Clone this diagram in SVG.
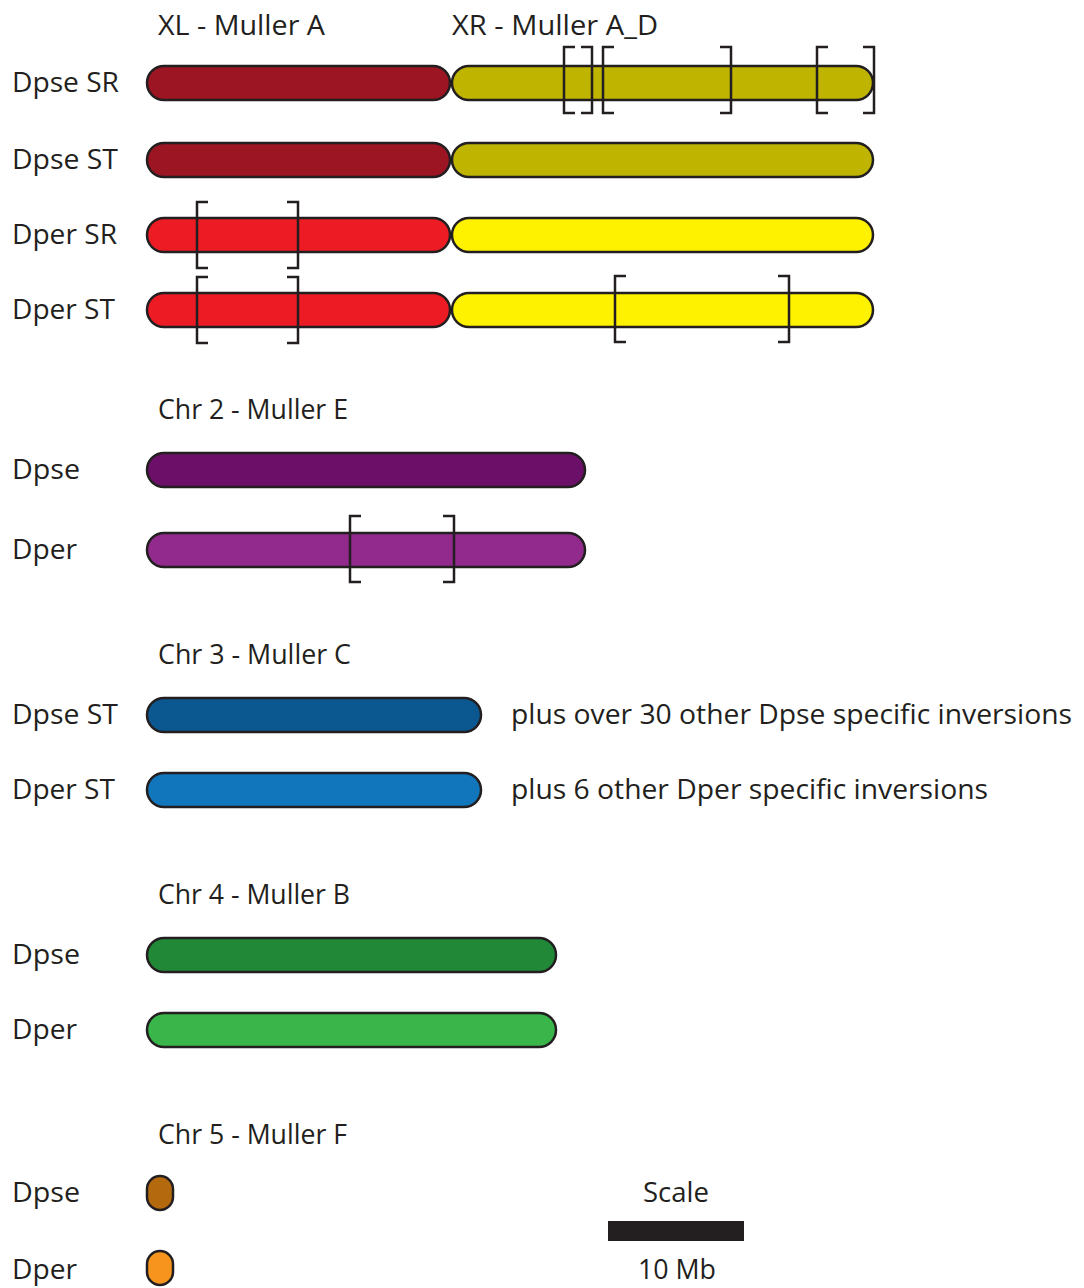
<svg xmlns="http://www.w3.org/2000/svg" width="1084" height="1288" viewBox="0 0 1084 1288">
<style>
text{font-family:"Open Sans","Liberation Sans",sans-serif;font-size:28px;fill:#231f20}
.bar{stroke:#231f20;stroke-width:2.5}
.br{fill:none;stroke:#231f20;stroke-width:2.5}
</style>
<rect width="1084" height="1288" fill="#ffffff"/>
<g id="headers">
<text x="158" y="35" textLength="167" lengthAdjust="spacingAndGlyphs">XL - Muller A</text>
<text x="452" y="35" textLength="206" lengthAdjust="spacingAndGlyphs">XR - Muller A_D</text>
<text x="158" y="419" textLength="190" lengthAdjust="spacingAndGlyphs">Chr 2 - Muller E</text>
<text x="158" y="664" textLength="193" lengthAdjust="spacingAndGlyphs">Chr 3 - Muller C</text>
<text x="158" y="904" textLength="192" lengthAdjust="spacingAndGlyphs">Chr 4 - Muller B</text>
<text x="158" y="1144" textLength="189" lengthAdjust="spacingAndGlyphs">Chr 5 - Muller F</text>
</g>
<g id="labels">
<text x="12" y="92" textLength="107" lengthAdjust="spacingAndGlyphs">Dpse SR</text>
<text x="12" y="169" textLength="106" lengthAdjust="spacingAndGlyphs">Dpse ST</text>
<text x="12" y="244" textLength="105" lengthAdjust="spacingAndGlyphs">Dper SR</text>
<text x="12" y="319" textLength="103" lengthAdjust="spacingAndGlyphs">Dper ST</text>
<text x="12" y="479" textLength="68" lengthAdjust="spacingAndGlyphs">Dpse</text>
<text x="12" y="559" textLength="65" lengthAdjust="spacingAndGlyphs">Dper</text>
<text x="12" y="724" textLength="106" lengthAdjust="spacingAndGlyphs">Dpse ST</text>
<text x="12" y="799" textLength="103" lengthAdjust="spacingAndGlyphs">Dper ST</text>
<text x="511" y="724" textLength="561" lengthAdjust="spacingAndGlyphs">plus over 30 other Dpse specific inversions</text>
<text x="511" y="799" textLength="477" lengthAdjust="spacingAndGlyphs">plus 6 other Dper specific inversions</text>
<text x="12" y="964" textLength="68" lengthAdjust="spacingAndGlyphs">Dpse</text>
<text x="12" y="1039" textLength="65" lengthAdjust="spacingAndGlyphs">Dper</text>
<text x="12" y="1202" textLength="68" lengthAdjust="spacingAndGlyphs">Dpse</text>
<text x="12" y="1279" textLength="65" lengthAdjust="spacingAndGlyphs">Dper</text>
</g>
<g id="chrX-DpseSR">
<rect class="bar" x="147" y="66" width="303" height="34" rx="17" fill="#9b1522"/>
<rect class="bar" x="452" y="66" width="421" height="34" rx="17" fill="#bfb400"/>
</g>
<g id="chrX-DpseST">
<rect class="bar" x="147" y="143" width="303" height="34" rx="17" fill="#9b1522"/>
<rect class="bar" x="452" y="143" width="421" height="34" rx="17" fill="#bfb400"/>
</g>
<g id="chrX-DperSR">
<rect class="bar" x="147" y="218" width="303" height="34" rx="17" fill="#ed1c24"/>
<rect class="bar" x="452" y="218" width="421" height="34" rx="17" fill="#fff200"/>
</g>
<g id="chrX-DperST">
<rect class="bar" x="147" y="293" width="303" height="34" rx="17" fill="#ed1c24"/>
<rect class="bar" x="452" y="293" width="421" height="34" rx="17" fill="#fff200"/>
</g>
<g id="chr2-Dpse"><rect class="bar" x="147" y="453" width="438" height="34" rx="17" fill="#6b0f68"/></g>
<g id="chr2-Dper"><rect class="bar" x="147" y="533" width="438" height="34" rx="17" fill="#922a8e"/></g>
<g id="chr3-DpseST"><rect class="bar" x="147" y="698" width="334" height="34" rx="17" fill="#0b5790"/></g>
<g id="chr3-DperST"><rect class="bar" x="147" y="773" width="334" height="34" rx="17" fill="#1176bc"/></g>
<g id="chr4-Dpse"><rect class="bar" x="147" y="938" width="409" height="34" rx="17" fill="#208837"/></g>
<g id="chr4-Dper"><rect class="bar" x="147" y="1013" width="409" height="34" rx="17" fill="#39b54a"/></g>
<g id="chr5-Dpse"><rect class="bar" x="147" y="1176" width="26" height="34" rx="13" fill="#b5690f"/></g>
<g id="chr5-Dper"><rect class="bar" x="147" y="1251" width="26" height="34" rx="13" fill="#f7941d"/></g>
<g id="brackets">
<path class="br" d="M575 47H564V113H575M581 47H592V113H581"/>
<path class="br" d="M614 47H603V113H614M720 47H731V113H720"/>
<path class="br" d="M828 47H817V113H828M863 47H874V113H863"/>
<path class="br" d="M208 202H197V268H208M287 202H298V268H287"/>
<path class="br" d="M208 277H197V343H208M287 277H298V343H287"/>
<path class="br" d="M626 276H615V342H626M778 276H789V342H778"/>
<path class="br" d="M361 516H350V582H361M443 516H454V582H443"/>
</g>
<g id="scale">
<text x="643" y="1202" textLength="66" lengthAdjust="spacingAndGlyphs">Scale</text>
<rect x="608" y="1221" width="136" height="20" fill="#231f20"/>
<text x="638" y="1279" textLength="78" lengthAdjust="spacingAndGlyphs">10 Mb</text>
</g>
</svg>
